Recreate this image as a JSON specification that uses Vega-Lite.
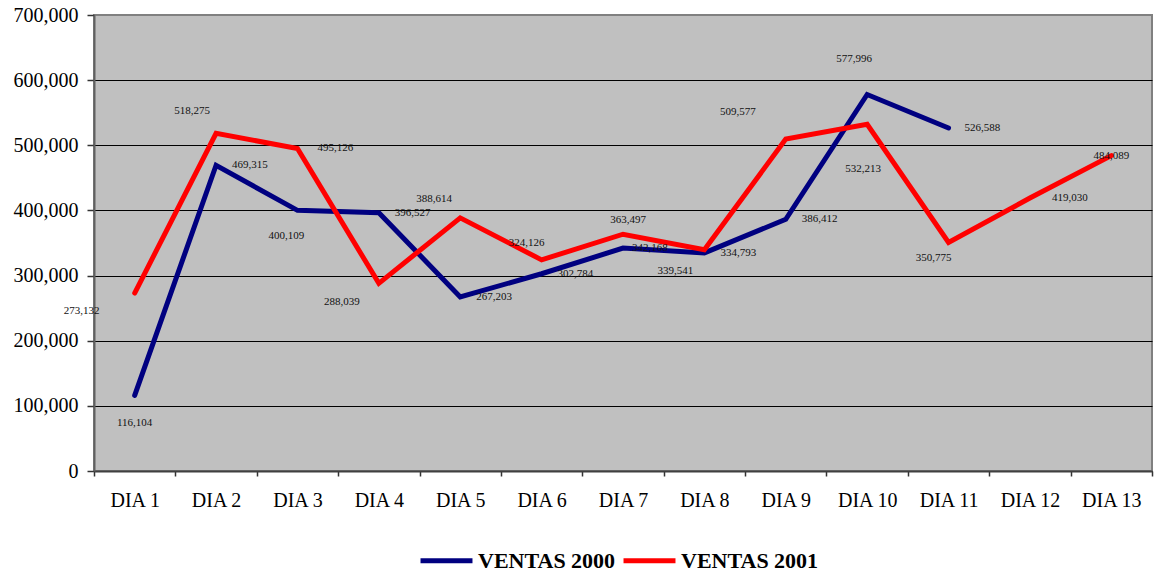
{
  "$schema": "https://vega.github.io/schema/vega-lite/v6.json",
  "width": 1058,
  "height": 456,
  "autosize": {"type": "none"},
  "padding": {"left": 94, "top": 15, "right": 2, "bottom": 105},
  "background": "white",
  "config": {
    "view": {"fill": "#C0C0C0", "stroke": "#808080", "strokeWidth": 2},
    "text": {"font": "Liberation Serif", "fontSize": 11, "color": "#111", "baseline": "middle"}
  },
  "data": {
    "values": [
      {"dia": "DIA 1", "serie": "VENTAS 2000", "ventas": 116104},
      {"dia": "DIA 2", "serie": "VENTAS 2000", "ventas": 469315},
      {"dia": "DIA 3", "serie": "VENTAS 2000", "ventas": 400109},
      {"dia": "DIA 4", "serie": "VENTAS 2000", "ventas": 396527},
      {"dia": "DIA 5", "serie": "VENTAS 2000", "ventas": 267203},
      {"dia": "DIA 6", "serie": "VENTAS 2000", "ventas": 302784},
      {"dia": "DIA 7", "serie": "VENTAS 2000", "ventas": 342168},
      {"dia": "DIA 8", "serie": "VENTAS 2000", "ventas": 334793},
      {"dia": "DIA 9", "serie": "VENTAS 2000", "ventas": 386412},
      {"dia": "DIA 10", "serie": "VENTAS 2000", "ventas": 577996},
      {"dia": "DIA 11", "serie": "VENTAS 2000", "ventas": 526588},
      {"dia": "DIA 1", "serie": "VENTAS 2001", "ventas": 273132},
      {"dia": "DIA 2", "serie": "VENTAS 2001", "ventas": 518275},
      {"dia": "DIA 3", "serie": "VENTAS 2001", "ventas": 495126},
      {"dia": "DIA 4", "serie": "VENTAS 2001", "ventas": 288039},
      {"dia": "DIA 5", "serie": "VENTAS 2001", "ventas": 388614},
      {"dia": "DIA 6", "serie": "VENTAS 2001", "ventas": 324126},
      {"dia": "DIA 7", "serie": "VENTAS 2001", "ventas": 363497},
      {"dia": "DIA 8", "serie": "VENTAS 2001", "ventas": 339541},
      {"dia": "DIA 9", "serie": "VENTAS 2001", "ventas": 509577},
      {"dia": "DIA 10", "serie": "VENTAS 2001", "ventas": 532213},
      {"dia": "DIA 11", "serie": "VENTAS 2001", "ventas": 350775},
      {"dia": "DIA 12", "serie": "VENTAS 2001", "ventas": 419030},
      {"dia": "DIA 13", "serie": "VENTAS 2001", "ventas": 484089}
    ]
  },
  "encoding": {
    "x": {
      "field": "dia",
      "type": "nominal",
      "scale": {
        "type": "band",
        "domain": ["DIA 1", "DIA 2", "DIA 3", "DIA 4", "DIA 5", "DIA 6", "DIA 7", "DIA 8", "DIA 9", "DIA 10", "DIA 11", "DIA 12", "DIA 13"],
        "paddingInner": 0,
        "paddingOuter": 0
      },
      "axis": {
        "title": null,
        "labelAngle": 0,
        "labelFont": "Liberation Serif",
        "labelFontSize": 20,
        "labelColor": "black",
        "labelPadding": 14,
        "tickBand": "extent",
        "tickSize": 5,
        "tickColor": "#333",
        "tickWidth": 1.5,
        "domainColor": "#404040",
        "domainWidth": 2,
        "grid": false
      }
    },
    "y": {
      "field": "ventas",
      "type": "quantitative",
      "scale": {"domain": [0, 700000], "nice": false},
      "axis": {
        "title": null,
        "values": [0, 100000, 200000, 300000, 400000, 500000, 600000, 700000],
        "format": ",.0f",
        "labelFont": "Liberation Serif",
        "labelFontSize": 20,
        "labelColor": "black",
        "labelPadding": 9,
        "tickSize": 7,
        "tickColor": "#333",
        "tickWidth": 1.5,
        "domainColor": "#606060",
        "domainWidth": 2,
        "grid": true,
        "gridColor": {"condition": {"test": "datum.value >= 700000", "value": "#808080"}, "value": "black"},
        "gridWidth": 1,
        "gridOpacity": 1
      }
    }
  },
  "layer": [
    {
      "mark": {"type": "line", "strokeWidth": 5, "strokeCap": "round", "strokeJoin": "miter"},
      "encoding": {
        "color": {
          "field": "serie",
          "type": "nominal",
          "scale": {"domain": ["VENTAS 2000", "VENTAS 2001"], "range": ["#000080", "#FF0000"]},
          "legend": {
            "title": null,
            "orient": "none",
            "direction": "horizontal",
            "columns": 2,
            "legendX": 324,
            "legendY": 517,
            "symbolType": "stroke",
            "symbolSize": 2700,
            "symbolStrokeWidth": 5,
            "labelFont": "Liberation Serif",
            "labelFontWeight": "bold",
            "labelFontSize": 22,
            "labelColor": "black",
            "labelOffset": 3,
            "columnPadding": -3,
            "labelLimit": 300
          }
        }
      }
    },
    {
      "transform": [{"filter": "datum.serie === 'VENTAS 2000' && indexof(['DIA 2','DIA 4','DIA 5','DIA 6','DIA 8','DIA 9','DIA 11'], datum.dia) >= 0"}],
      "mark": {"type": "text", "align": "left", "dx": 16},
      "encoding": {"text": {"field": "ventas", "type": "quantitative", "format": ","}}
    },
    {
      "transform": [{"filter": "datum.serie === 'VENTAS 2000' && datum.dia === 'DIA 7'"}],
      "mark": {"type": "text", "align": "left", "dx": 9},
      "encoding": {"text": {"field": "ventas", "type": "quantitative", "format": ","}}
    },
    {
      "transform": [{"filter": "datum.serie === 'VENTAS 2000' && datum.dia === 'DIA 1'"}],
      "mark": {"type": "text", "align": "center", "dx": 0, "dy": 28},
      "encoding": {"text": {"field": "ventas", "type": "quantitative", "format": ","}}
    },
    {
      "transform": [{"filter": "datum.serie === 'VENTAS 2000' && datum.dia === 'DIA 3'"}],
      "mark": {"type": "text", "align": "center", "dx": -11, "dy": 26},
      "encoding": {"text": {"field": "ventas", "type": "quantitative", "format": ","}}
    },
    {
      "transform": [{"filter": "datum.serie === 'VENTAS 2000' && datum.dia === 'DIA 10'"}],
      "mark": {"type": "text", "align": "center", "dx": -13, "dy": -35},
      "encoding": {"text": {"field": "ventas", "type": "quantitative", "format": ","}}
    },
    {
      "transform": [{"filter": "datum.serie === 'VENTAS 2001' && datum.dia === 'DIA 1'"}],
      "mark": {"type": "text", "align": "center", "dx": -53, "dy": 18},
      "encoding": {"text": {"field": "ventas", "type": "quantitative", "format": ","}}
    },
    {
      "transform": [{"filter": "datum.serie === 'VENTAS 2001' && datum.dia === 'DIA 2'"}],
      "mark": {"type": "text", "align": "center", "dx": -24, "dy": -22},
      "encoding": {"text": {"field": "ventas", "type": "quantitative", "format": ","}}
    },
    {
      "transform": [{"filter": "datum.serie === 'VENTAS 2001' && datum.dia === 'DIA 3'"}],
      "mark": {"type": "text", "align": "center", "dx": 38, "dy": 0},
      "encoding": {"text": {"field": "ventas", "type": "quantitative", "format": ","}}
    },
    {
      "transform": [{"filter": "datum.serie === 'VENTAS 2001' && datum.dia === 'DIA 4'"}],
      "mark": {"type": "text", "align": "center", "dx": -37, "dy": 19},
      "encoding": {"text": {"field": "ventas", "type": "quantitative", "format": ","}}
    },
    {
      "transform": [{"filter": "datum.serie === 'VENTAS 2001' && datum.dia === 'DIA 5'"}],
      "mark": {"type": "text", "align": "center", "dx": -26, "dy": -19},
      "encoding": {"text": {"field": "ventas", "type": "quantitative", "format": ","}}
    },
    {
      "transform": [{"filter": "datum.serie === 'VENTAS 2001' && datum.dia === 'DIA 6'"}],
      "mark": {"type": "text", "align": "center", "dx": -15, "dy": -17},
      "encoding": {"text": {"field": "ventas", "type": "quantitative", "format": ","}}
    },
    {
      "transform": [{"filter": "datum.serie === 'VENTAS 2001' && datum.dia === 'DIA 7'"}],
      "mark": {"type": "text", "align": "center", "dx": 5, "dy": -14},
      "encoding": {"text": {"field": "ventas", "type": "quantitative", "format": ","}}
    },
    {
      "transform": [{"filter": "datum.serie === 'VENTAS 2001' && datum.dia === 'DIA 8'"}],
      "mark": {"type": "text", "align": "center", "dx": -29, "dy": 21},
      "encoding": {"text": {"field": "ventas", "type": "quantitative", "format": ","}}
    },
    {
      "transform": [{"filter": "datum.serie === 'VENTAS 2001' && datum.dia === 'DIA 9'"}],
      "mark": {"type": "text", "align": "center", "dx": -48, "dy": -27},
      "encoding": {"text": {"field": "ventas", "type": "quantitative", "format": ","}}
    },
    {
      "transform": [{"filter": "datum.serie === 'VENTAS 2001' && datum.dia === 'DIA 10'"}],
      "mark": {"type": "text", "align": "center", "dx": -4, "dy": 45},
      "encoding": {"text": {"field": "ventas", "type": "quantitative", "format": ","}}
    },
    {
      "transform": [{"filter": "datum.serie === 'VENTAS 2001' && datum.dia === 'DIA 11'"}],
      "mark": {"type": "text", "align": "center", "dx": -15, "dy": 16},
      "encoding": {"text": {"field": "ventas", "type": "quantitative", "format": ","}}
    },
    {
      "transform": [{"filter": "datum.serie === 'VENTAS 2001' && datum.dia === 'DIA 12'"}],
      "mark": {"type": "text", "align": "center", "dx": 40, "dy": 0},
      "encoding": {"text": {"field": "ventas", "type": "quantitative", "format": ","}}
    },
    {
      "transform": [{"filter": "datum.serie === 'VENTAS 2001' && datum.dia === 'DIA 13'"}],
      "mark": {"type": "text", "align": "center", "dx": 0, "dy": 0},
      "encoding": {"text": {"field": "ventas", "type": "quantitative", "format": ","}}
    }
  ]
}
